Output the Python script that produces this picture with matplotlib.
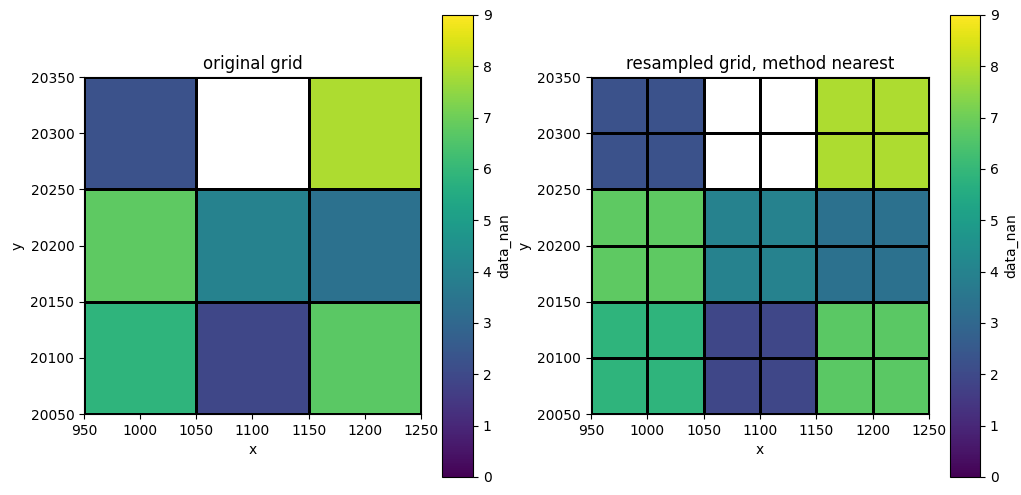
import numpy as np
import matplotlib.pyplot as plt

# cell edges of the original 3x3 grid
x_edges = [950, 1050, 1150, 1250]
y_edges = [20050, 20150, 20250, 20350]

# values, rows from bottom (y=20100) to top (y=20300)
data_nan = np.array([
    [5.85, 1.9, 6.7],
    [6.75, 3.95, 3.35],
    [2.25, np.nan, 7.9],
])

# resampled grid (nearest) at 50 m spacing
x_fine = [950, 1000, 1050, 1100, 1150, 1200, 1250]
y_fine = [20050, 20100, 20150, 20200, 20250, 20300, 20350]
data_fine = np.repeat(np.repeat(data_nan, 2, axis=0), 2, axis=1)

fig = plt.figure(figsize=(10.21, 4.95), dpi=100)

ax1 = fig.add_axes([0.0823, 0.1636, 0.3300, 0.6808])
cax1 = fig.add_axes([0.4329, 0.0364, 0.0304, 0.9333])
ax2 = fig.add_axes([0.5788, 0.1636, 0.3310, 0.6808])
cax2 = fig.add_axes([0.9305, 0.0364, 0.0294, 0.9333])

panels = [
    (ax1, cax1, x_edges, y_edges, data_nan, "original grid"),
    (ax2, cax2, x_fine, y_fine, data_fine, "resampled grid, method nearest"),
]

for ax, cax, xe, ye, z, title in panels:
    mesh = ax.pcolormesh(xe, ye, z, cmap="viridis", vmin=0, vmax=9,
                         edgecolors="black", linewidth=2)
    ax.set_xlim(950, 1250)
    ax.set_ylim(20050, 20350)
    ax.set_xticks(range(950, 1251, 50))
    ax.set_yticks(range(20050, 20351, 50))
    ax.set_xlabel("x")
    ax.set_ylabel("y")
    ax.set_title(title)
    cb = fig.colorbar(mesh, cax=cax)
    cb.set_label("data_nan")
    cb.set_ticks(range(0, 10))

plt.savefig("out.png")
plt.close()
